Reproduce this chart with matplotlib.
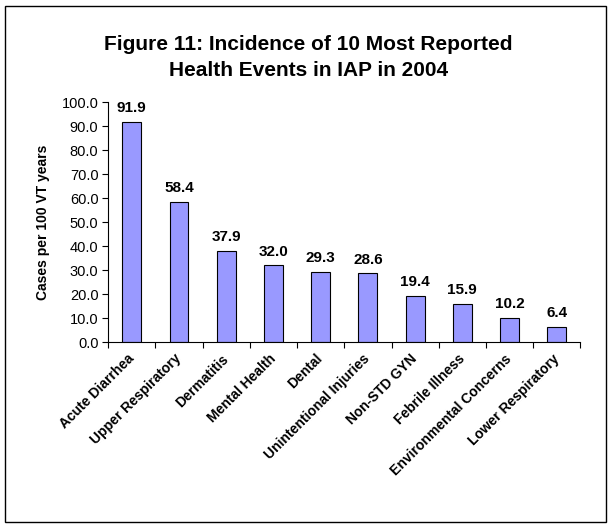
import numpy as np
import matplotlib
matplotlib.use('Agg')
import matplotlib.pyplot as plt
from matplotlib.patches import Rectangle

plt.rcParams['font.family'] = ['Liberation Sans', 'DejaVu Sans']

events = ['Acute Diarrhea', 'Upper Respiratory', 'Dermatitis', 'Mental Health',
          'Dental', 'Unintentional Injuries', 'Non-STD GYN', 'Febrile Illness',
          'Environmental Concerns', 'Lower Respiratory']
rates = [91.9, 58.4, 37.9, 32.0, 29.3, 28.6, 19.4, 15.9, 10.2, 6.4]
yticks = np.arange(0, 101, 10)

fig = plt.figure(figsize=(6.11, 5.27), dpi=100)
# axes box in figure fractions (left, bottom, width, height)
ax = fig.add_axes([0.177, 0.351, 0.773, 0.455])

x = np.arange(len(events))
ax.bar(x, rates, width=0.4, color='#9999FF', edgecolor='black', linewidth=0.8)

for xi, v in zip(x, rates):
    ax.text(xi, v + 2.8, f'{v:.1f}', ha='center', va='bottom',
            fontsize=11, fontweight='bold')

ax.set_xlim(-0.5, len(events) - 0.5)
ax.set_ylim(0, 100)
ax.set_yticks(yticks)
ax.set_yticklabels([f'{t:.1f}' for t in yticks], fontsize=10.5)
ax.tick_params(axis='y', direction='out', length=4, width=0.8, pad=3)

ax.set_xticks(x)
ax.set_xticklabels(events, rotation=45, ha='right', va='center',
                   rotation_mode='anchor', fontsize=10, fontweight='bold')
ax.set_xticks(np.arange(-0.5, len(events), 1), minor=True)
ax.tick_params(axis='x', which='major', length=0, pad=10.5)
ax.tick_params(axis='x', which='minor', direction='out', length=4, width=0.8)

ax.spines['top'].set_visible(False)
ax.spines['right'].set_visible(False)

ax.set_ylabel('Cases per 100 VT years', fontsize=10, fontweight='bold', labelpad=8)

fig.text(0.505, 0.891, 'Figure 11: Incidence of 10 Most Reported\nHealth Events in IAP in 2004',
         ha='center', va='center', fontsize=15, fontweight='bold', linespacing=1.45)

fig.patches.append(Rectangle((0.009, 0.01), 0.982, 0.978, transform=fig.transFigure,
                             fill=False, edgecolor='black', linewidth=1))

plt.savefig('out.png', dpi=100)
